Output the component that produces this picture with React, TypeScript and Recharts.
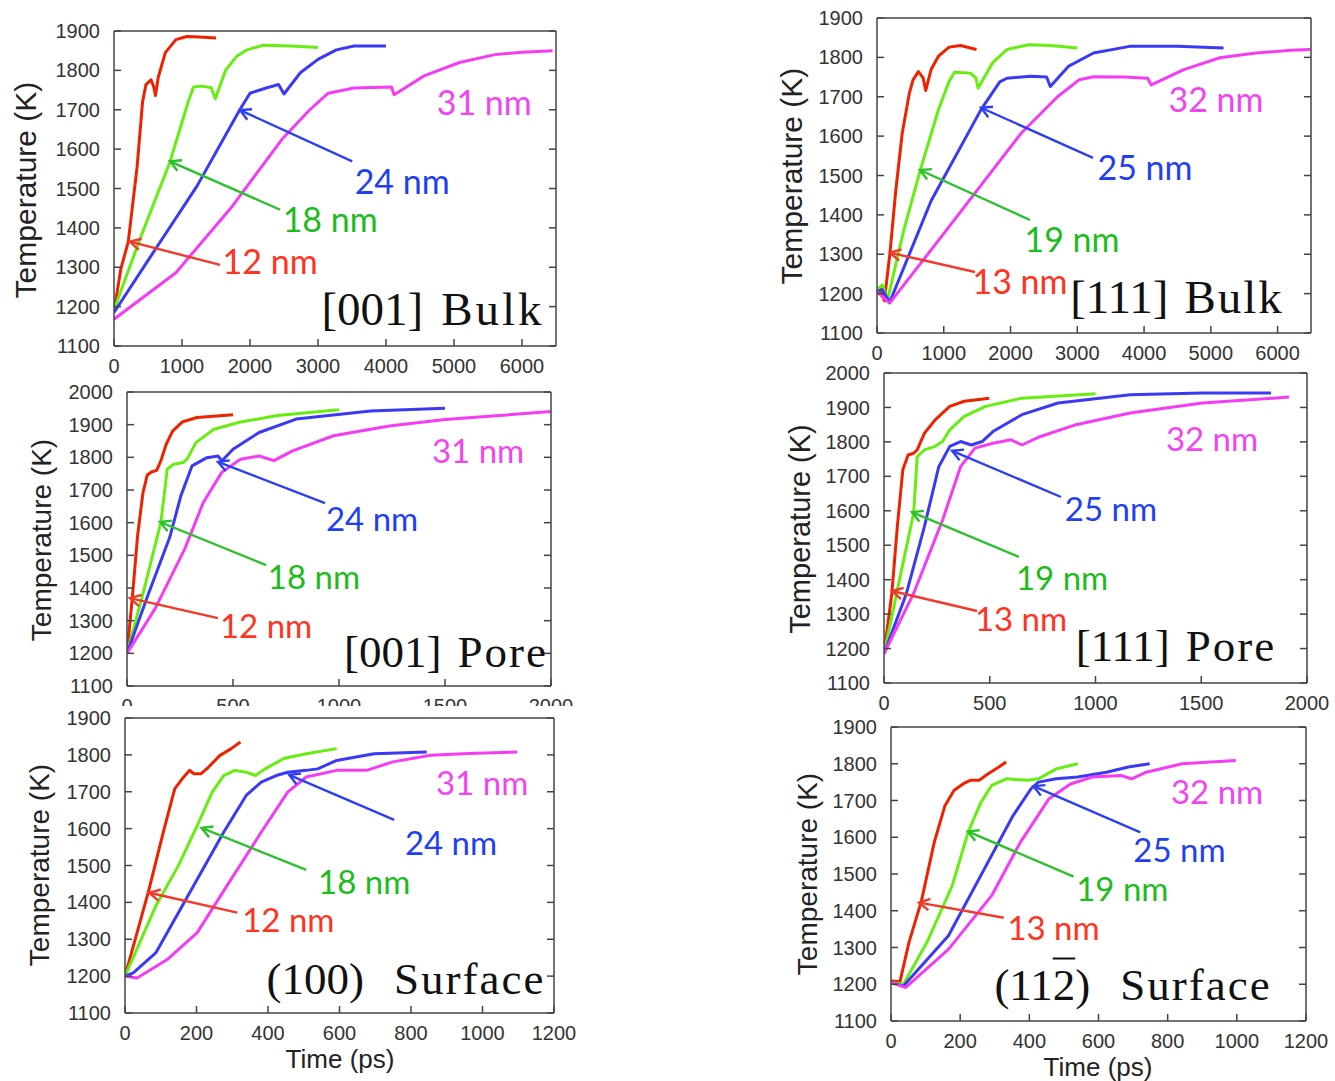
import React from "react";
import { LineChart, Line, XAxis, YAxis, ReferenceLine, ReferenceDot } from "recharts";

type Pt = [number, number];
type Arrow = [number, number, number, number]; // tail t, tail T, tip t, tip T

// ---- [001] Bulk ----
const bulk001Red: Pt[] = [[0, 1188], [100, 1295], [210, 1365], [340, 1555], [420, 1720], [470, 1764], [545, 1776], [585, 1758], [610, 1736], [650, 1782], [755, 1845], [910, 1878], [1070, 1886], [1250, 1885], [1500, 1882]];
const bulk001Green: Pt[] = [[0, 1192], [400, 1380], [820, 1566], [1100, 1725], [1170, 1758], [1300, 1760], [1430, 1756], [1490, 1728], [1640, 1800], [1800, 1835], [1950, 1852], [2200, 1864], [2600, 1862], [3000, 1858]];
const bulk001Blue: Pt[] = [[0, 1185], [640, 1354], [1220, 1506], [1850, 1700], [2000, 1742], [2250, 1756], [2420, 1764], [2500, 1740], [2740, 1794], [3000, 1828], [3270, 1852], [3530, 1862], [4000, 1862]];
const bulk001Magenta: Pt[] = [[0, 1168], [910, 1286], [1740, 1455], [2470, 1625], [2880, 1700], [3150, 1742], [3530, 1755], [4080, 1758], [4120, 1738], [4560, 1786], [5080, 1820], [5600, 1840], [6000, 1846], [6450, 1850]];
const bulk001LabelPos: Pt[] = [[2296, 1314], [3179, 1421], [4238, 1518], [5445, 1719]];
const bulk001Arrows: Arrow[] = [[1560, 1306, 235, 1365], [2443, 1446, 824, 1569], [3503, 1569, 1854, 1699]];

// ---- [111] Bulk ----
const bulk111Red: Pt[] = [[0, 1202], [50, 1215], [110, 1182], [195, 1304], [280, 1460], [378, 1608], [486, 1710], [540, 1743], [620, 1764], [690, 1748], [730, 1716], [810, 1769], [920, 1803], [1080, 1826], [1250, 1830], [1490, 1820]];
const bulk111Green: Pt[] = [[0, 1210], [80, 1222], [160, 1186], [400, 1360], [650, 1515], [920, 1667], [1080, 1739], [1160, 1762], [1400, 1760], [1480, 1748], [1515, 1722], [1730, 1786], [1946, 1820], [2270, 1832], [2600, 1830], [3000, 1824]];
const bulk111Blue: Pt[] = [[0, 1205], [80, 1210], [190, 1178], [811, 1436], [1560, 1668], [1838, 1738], [1946, 1747], [2300, 1752], [2540, 1750], [2595, 1726], [2865, 1777], [3243, 1811], [3784, 1828], [4500, 1828], [5190, 1824]];
const bulk111Magenta: Pt[] = [[0, 1205], [190, 1176], [1081, 1370], [2162, 1608], [2703, 1700], [3027, 1743], [3243, 1751], [3700, 1750], [4054, 1747], [4108, 1730], [4595, 1769], [5135, 1799], [5676, 1811], [6200, 1818], [6490, 1820]];
const bulk111LabelPos: Pt[] = [[2142, 1230], [2920, 1337], [4014, 1520], [5077, 1692]];
const bulk111Arrows: Arrow[] = [[1468, 1255, 195, 1304], [2291, 1387, 644, 1514], [3235, 1545, 1558, 1672]];

// ---- [001] Pore ----
const pore001Red: Pt[] = [[0, 1200], [25, 1370], [50, 1560], [75, 1690], [95, 1745], [115, 1755], [140, 1760], [160, 1790], [185, 1840], [215, 1880], [260, 1908], [330, 1922], [500, 1930]];
const pore001Green: Pt[] = [[0, 1200], [80, 1394], [160, 1602], [190, 1764], [220, 1779], [265, 1784], [285, 1796], [325, 1845], [410, 1886], [535, 1908], [710, 1928], [1000, 1946]];
const pore001Blue: Pt[] = [[0, 1200], [96, 1373], [202, 1556], [254, 1682], [307, 1774], [377, 1799], [430, 1804], [447, 1789], [500, 1825], [623, 1876], [798, 1917], [1149, 1942], [1500, 1950]];
const pore001Magenta: Pt[] = [[0, 1200], [132, 1336], [272, 1519], [360, 1662], [447, 1754], [535, 1794], [623, 1804], [693, 1790], [781, 1820], [974, 1866], [1237, 1896], [1500, 1916], [2000, 1940]];
const pore001LabelPos: Pt[] = [[656, 1284], [882, 1434], [1156, 1611], [1656, 1819]];
const pore001Arrows: Arrow[] = [[429, 1308, 14, 1369], [656, 1470, 156, 1602], [934, 1660, 429, 1786]];

// ---- [111] Pore ----
const pore111Red: Pt[] = [[0, 1185], [37, 1360], [63, 1554], [89, 1719], [114, 1762], [140, 1767], [157, 1777], [191, 1825], [242, 1864], [311, 1903], [379, 1918], [498, 1927]];
const pore111Green: Pt[] = [[0, 1185], [70, 1390], [140, 1593], [157, 1757], [191, 1777], [242, 1787], [277, 1801], [311, 1835], [379, 1874], [481, 1903], [652, 1927], [1000, 1940]];
const pore111Blue: Pt[] = [[0, 1185], [106, 1360], [191, 1554], [259, 1728], [311, 1787], [362, 1801], [413, 1791], [464, 1801], [515, 1830], [652, 1879], [823, 1913], [1164, 1937], [1505, 1942], [1830, 1942]];
const pore111Magenta: Pt[] = [[0, 1185], [140, 1360], [277, 1573], [362, 1728], [430, 1782], [515, 1796], [601, 1806], [652, 1791], [737, 1815], [908, 1850], [1164, 1884], [1505, 1913], [1915, 1930]];
const pore111LabelPos: Pt[] = [[648, 1286], [842, 1405], [1073, 1605], [1551, 1808]];
const pore111Arrows: Arrow[] = [[440, 1309, 38, 1367], [638, 1466, 132, 1596], [837, 1640, 322, 1774]];

// ---- (100) Surface ----
const surf100Red: Pt[] = [[0, 1200], [65, 1427], [107, 1590], [139, 1708], [160, 1735], [181, 1758], [192, 1749], [213, 1749], [234, 1767], [265, 1798], [297, 1817], [323, 1835]];
const surf100Green: Pt[] = [[0, 1200], [86, 1390], [149, 1499], [202, 1608], [244, 1699], [276, 1744], [307, 1758], [339, 1753], [365, 1744], [392, 1762], [444, 1790], [507, 1803], [592, 1817]];
const surf100Blue: Pt[] = [[0, 1200], [23, 1209], [86, 1263], [171, 1409], [276, 1590], [339, 1690], [381, 1726], [423, 1744], [455, 1753], [507, 1758], [539, 1762], [592, 1785], [697, 1803], [844, 1808]];
const surf100Magenta: Pt[] = [[0, 1200], [34, 1195], [118, 1245], [202, 1318], [297, 1463], [381, 1590], [455, 1699], [507, 1740], [592, 1758], [676, 1758], [749, 1781], [855, 1799], [960, 1804], [1097, 1808]];
const surf100LabelPos: Pt[] = [[457, 1353], [669, 1456], [912, 1561], [999, 1724]];
const surf100Arrows: Arrow[] = [[314, 1372, 68, 1426], [507, 1488, 214, 1602], [753, 1624, 459, 1746]];

// ---- (11-2) Surface ----
const surf112Red: Pt[] = [[0, 1209], [26, 1207], [52, 1314], [88, 1427], [125, 1586], [156, 1686], [182, 1727], [208, 1745], [229, 1755], [255, 1755], [281, 1773], [312, 1791], [333, 1805]];
const surf112Green: Pt[] = [[0, 1205], [36, 1200], [104, 1314], [177, 1468], [223, 1614], [260, 1695], [291, 1741], [333, 1759], [395, 1755], [426, 1759], [478, 1786], [540, 1800]];
const surf112Blue: Pt[] = [[0, 1205], [36, 1195], [166, 1332], [270, 1514], [353, 1659], [405, 1732], [426, 1750], [478, 1759], [540, 1764], [623, 1777], [686, 1791], [748, 1800]];
const surf112Magenta: Pt[] = [[0, 1205], [42, 1191], [166, 1295], [291, 1441], [374, 1586], [457, 1705], [519, 1745], [582, 1764], [665, 1768], [696, 1759], [738, 1777], [842, 1800], [997, 1809]];
const surf112LabelPos: Pt[] = [[470, 1354], [669, 1460], [834, 1564], [943, 1722]];
const surf112Arrows: Arrow[] = [[326, 1381, 81, 1422], [528, 1493, 222, 1616], [721, 1613, 412, 1739]];

const sizes001 = ["12 nm", "18 nm", "24 nm", "31 nm"];
const sizes111 = ["13 nm", "19 nm", "25 nm", "32 nm"];

const bulkXTicks = [0, 1000, 2000, 3000, 4000, 5000, 6000];
const poreXTicks = [0, 500, 1000, 1500, 2000];
const surfXTicks = [0, 200, 400, 600, 800, 1000, 1200];
const temp1900Ticks = [1100, 1200, 1300, 1400, 1500, 1600, 1700, 1800, 1900];
const temp2000Ticks = [1100, 1200, 1300, 1400, 1500, 1600, 1700, 1800, 1900, 2000];

const lineColors = ["#ee2200", "#66ee11", "#3a3af5", "#f43cf4"];
const textColors = ["#ff3320", "#1cbc1c", "#1f3ff2", "#f045f0"];
const arrowColors = ["#f23a2a", "#2cc02c", "#2c40f0"];

const FRAME = "#444";
const SANS = "'Liberation Sans', Arial, sans-serif";
const SERIF = "'Liberation Serif', 'Times New Roman', serif";
const tickFont = { fontSize: 20, fill: "#333", fontFamily: SANS };
const frameStyle = { stroke: FRAME, strokeWidth: 1.5 };
const noLabel = () => <g />;

type PanelCfg = {
  frame: { l: number; r: number; t: number; b: number };
  xMax: number;
  xTicks: number[];
  yMax: number;
  yTicks: number[];
  series: Pt[][];
  sizes: string[];
  labelPos: Pt[];
  arrows: Arrow[];
  labelSize: number;
  yTitle: { x: number; y: number; size: number };
  xTitle?: { x: number; y: number };
  title: { cx: number; cy: number; size: number; a: React.ReactNode; b: string; gap: number; ls: number };
  padTop?: number;
  white?: boolean;
};

function arrowShape(color: string) {
  return (p: any) => {
    const { x1, y1, x2, y2 } = p;
    const a = Math.atan2(y2 - y1, x2 - x1);
    const L = 12;
    const s = 0.5;
    const ax = x2 - L * Math.cos(a - s);
    const ay = y2 - L * Math.sin(a - s);
    const bx = x2 - L * Math.cos(a + s);
    const by = y2 - L * Math.sin(a + s);
    return (
      <g>
        <line x1={x1} y1={y1} x2={x2} y2={y2} stroke={color} strokeWidth={2.4} />
        <polyline points={`${ax},${ay} ${x2},${y2} ${bx},${by}`} fill="none" stroke={color} strokeWidth={2.4} />
      </g>
    );
  };
}

function labelShape(text: string, color: string, size: number) {
  return (p: any) => (
    <text x={p.cx} y={p.cy} dy="0.36em" textAnchor="middle" fill={color} fontSize={size} fontFamily="Lato, 'Open Sans', sans-serif">
      {text}
    </text>
  );
}

function Panel({ c }: { c: PanelCfg }) {
  const padTop = c.padTop ?? 20;
  const padLeft = 110;
  const padRight = 30;
  const padBottom = 50;
  const left = c.frame.l - padLeft;
  const top = c.frame.t - padTop;
  const W = c.frame.r - c.frame.l + padLeft + padRight;
  const H = c.frame.b - c.frame.t + padTop + padBottom;
  const yMin = 1100;

  return (
    <div style={{ position: "absolute", left, top, width: W, height: H, background: c.white ? "#fff" : "transparent" }}>
      <LineChart width={W} height={H} margin={{ top: padTop - 1, right: padRight - 1, bottom: padBottom - 40, left: padLeft - 60 }}>
        <XAxis type="number" dataKey="t" domain={[0, c.xMax]} ticks={c.xTicks} interval={0} height={40}
          tickSize={-7} tickMargin={20} axisLine={frameStyle} tickLine={frameStyle} tick={tickFont} allowDataOverflow />
        <XAxis xAxisId="top" orientation="top" type="number" domain={[0, c.xMax]} ticks={c.xTicks} interval={0} height={1}
          tickSize={-7} axisLine={frameStyle} tickLine={frameStyle} tick={noLabel} allowDataOverflow />
        <YAxis type="number" domain={[yMin, c.yMax]} ticks={c.yTicks} interval={0} width={60}
          tickSize={-7} tickMargin={21} axisLine={frameStyle} tickLine={frameStyle} tick={tickFont} allowDataOverflow />
        <YAxis yAxisId="right" orientation="right" type="number" domain={[yMin, c.yMax]} ticks={c.yTicks} interval={0} width={1}
          tickSize={-7} axisLine={frameStyle} tickLine={frameStyle} tick={noLabel} allowDataOverflow />
        {c.series.map((s, i) => (
          <Line key={i} data={s.map(([t, T]) => ({ t, T }))} dataKey="T" type="linear" stroke={lineColors[i]}
            strokeWidth={3} strokeLinejoin="round" dot={false} activeDot={false} isAnimationActive={false} />
        ))}
        {c.arrows.map((a, i) => (
          <ReferenceLine key={"a" + i} segment={[{ x: a[0], y: a[1] }, { x: a[2], y: a[3] }]} shape={arrowShape(arrowColors[i])} />
        ))}
        {c.labelPos.map((p, i) => (
          <ReferenceDot key={"l" + i} x={p[0]} y={p[1]} r={1} shape={labelShape(c.sizes[i], textColors[i], c.labelSize)} />
        ))}
      </LineChart>
      <div style={{
        position: "absolute", left: c.yTitle.x - left, top: c.yTitle.y - top,
        transform: "translate(-50%, -50%) rotate(-90deg)", whiteSpace: "nowrap",
        fontFamily: SANS, fontSize: c.yTitle.size, color: "#222", lineHeight: 1,
      }}>Temperature (K)</div>
      {c.xTitle && (
        <div style={{
          position: "absolute", left: c.xTitle.x - left, top: c.xTitle.y - top,
          transform: "translate(-50%, -50%)", whiteSpace: "nowrap",
          fontFamily: SANS, fontSize: 26, color: "#222", lineHeight: 0.9,
        }}>Time (ps)</div>
      )}
      <div style={{
        position: "absolute", left: c.title.cx - left, top: c.title.cy - top,
        transform: "translate(-50%, -50%)", whiteSpace: "nowrap",
        fontFamily: SERIF, fontSize: c.title.size, color: "#111", lineHeight: 1,
      }}>
        <span>{c.title.a}</span>
        <span style={{ marginLeft: c.title.gap, letterSpacing: c.title.ls }}>{c.title.b}</span>
      </div>
    </div>
  );
}

const panels: PanelCfg[] = [
  {
    frame: { l: 114, r: 556, t: 31, b: 346 }, xMax: 6500, xTicks: bulkXTicks, yMax: 1900, yTicks: temp1900Ticks,
    series: [bulk001Red, bulk001Green, bulk001Blue, bulk001Magenta], sizes: sizes001,
    labelPos: bulk001LabelPos, arrows: bulk001Arrows, labelSize: 34,
    yTitle: { x: 26, y: 190, size: 30 },
    title: { cx: 433, cy: 309, size: 47, a: "[001]", b: "Bulk", gap: 18, ls: 3 },
  },
  {
    frame: { l: 877, r: 1311, t: 18, b: 333 }, xMax: 6500, xTicks: bulkXTicks, yMax: 1900, yTicks: temp1900Ticks,
    series: [bulk111Red, bulk111Green, bulk111Blue, bulk111Magenta], sizes: sizes111,
    labelPos: bulk111LabelPos, arrows: bulk111Arrows, labelSize: 34,
    yTitle: { x: 792, y: 176, size: 30 },
    title: { cx: 1177, cy: 297, size: 47, a: "[111]", b: "Bulk", gap: 16, ls: 2 },
  },
  {
    frame: { l: 127, r: 551, t: 392, b: 686 }, xMax: 2000, xTicks: poreXTicks, yMax: 2000, yTicks: temp2000Ticks,
    series: [pore001Red, pore001Green, pore001Blue, pore001Magenta], sizes: sizes001,
    labelPos: pore001LabelPos, arrows: pore001Arrows, labelSize: 33,
    yTitle: { x: 42, y: 540, size: 28 },
    title: { cx: 446, cy: 652, size: 45, a: "[001]", b: "Pore", gap: 16, ls: 2 },
  },
  {
    frame: { l: 884, r: 1307, t: 373, b: 683 }, xMax: 2000, xTicks: poreXTicks, yMax: 2000, yTicks: temp2000Ticks,
    series: [pore111Red, pore111Green, pore111Blue, pore111Magenta], sizes: sizes111,
    labelPos: pore111LabelPos, arrows: pore111Arrows, labelSize: 33,
    yTitle: { x: 800, y: 529, size: 29 },
    title: { cx: 1176, cy: 646, size: 45, a: "[111]", b: "Pore", gap: 16, ls: 2 },
  },
  {
    frame: { l: 125, r: 554, t: 718, b: 1013 }, xMax: 1200, xTicks: surfXTicks, yMax: 1900, yTicks: temp1900Ticks,
    series: [surf100Red, surf100Green, surf100Blue, surf100Magenta], sizes: sizes001,
    labelPos: surf100LabelPos, arrows: surf100Arrows, labelSize: 33,
    yTitle: { x: 40, y: 865, size: 28 }, xTitle: { x: 340, y: 1060 },
    title: { cx: 406, cy: 979, size: 45, a: "(100)", b: "Surface", gap: 30, ls: 2 },
    padTop: 12, white: true,
  },
  {
    frame: { l: 891, r: 1306, t: 727, b: 1021 }, xMax: 1200, xTicks: surfXTicks, yMax: 1900, yTicks: temp1900Ticks,
    series: [surf112Red, surf112Green, surf112Blue, surf112Magenta], sizes: sizes111,
    labelPos: surf112LabelPos, arrows: surf112Arrows, labelSize: 33,
    yTitle: { x: 808, y: 874, size: 28 }, xTitle: { x: 1098, y: 1068 },
    title: {
      cx: 1133, cy: 985, size: 45,
      a: <>(11<span style={{ textDecoration: "overline", textDecorationThickness: 2 }}>2</span>)</>,
      b: "Surface", gap: 30, ls: 2,
    },
  },
];

export default function App() {
  return (
    <div style={{ position: "absolute", left: 0, top: 0, width: 1335, height: 1081, overflow: "hidden", background: "#fff" }}>
      {panels.map((c, i) => (
        <Panel key={i} c={c} />
      ))}
    </div>
  );
}
